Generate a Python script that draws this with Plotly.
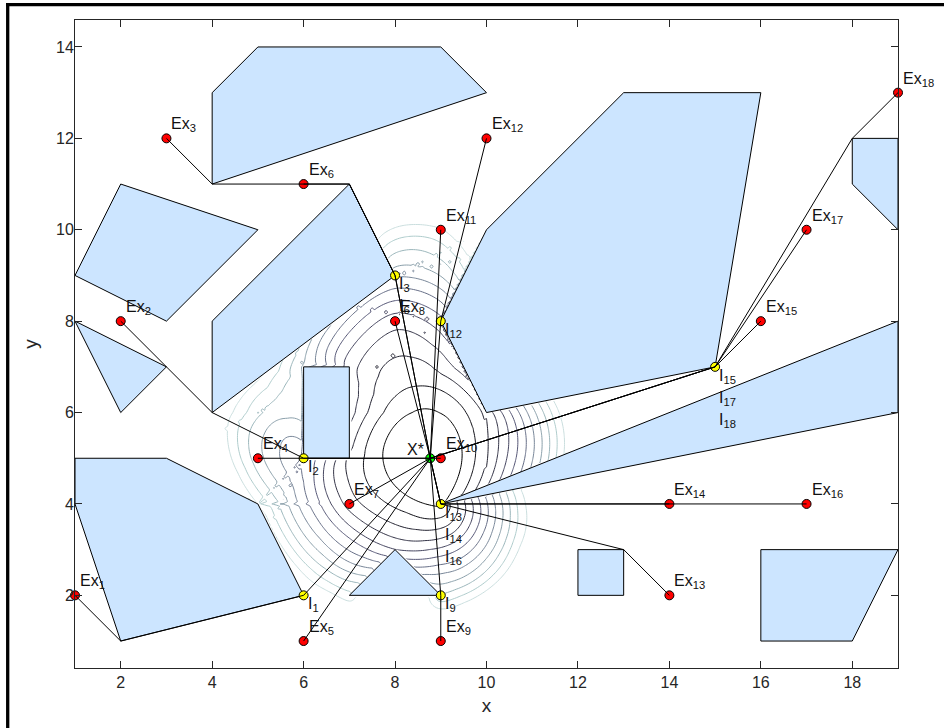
import numpy as np
import plotly.graph_objects as go

# ---------------------------------------------------------------------------
# Data
# ---------------------------------------------------------------------------
# Existing facilities Ex_1 .. Ex_18
ex_x = [1, 2, 3, 5, 6, 6, 7, 8, 9, 9, 9, 10, 14, 14, 16, 17, 17, 19]
ex_y = [2, 8, 12, 5, 1, 11, 4, 8, 1, 5, 10, 12, 2, 4, 8, 4, 10, 13]

# Optimal new location X*
opt_x = 8.77
opt_y = 5.0

# Polygonal barriers (vertex lists)
obstacles = [
    [(4, 11), (4, 13), (5, 14), (9, 14), (10, 13)],
    [(1, 9), (2, 11), (5, 10), (3, 8)],
    [(1, 8), (3, 7), (2, 6)],
    [(4, 6), (4, 8), (7, 11), (8, 9)],
    [(6, 5), (6, 7), (7, 7), (7, 5)],
    [(9, 8), (10, 10), (13, 13), (16, 13), (15, 7), (10, 6)],
    [(9, 4), (19, 8), (19, 6)],
    [(18, 11), (18, 12), (19, 12), (19, 10)],
    [(1, 5), (3, 5), (5, 4), (6, 2), (2, 1), (1, 4)],
    [(7, 2), (8, 3), (9, 2)],
    [(12, 2), (12, 3), (13, 3), (13, 2)],
    [(16, 1), (16, 3), (19, 3), (18, 1)],
]

# Barrier vertices passed by the shortest path from Ex_k to X*
path_via = [
    [(2, 1), (6, 2)],            # Ex1
    [(3, 7), (4, 6), (6, 5)],    # Ex2
    [(4, 11), (7, 11), (8, 9)],  # Ex3
    [],                          # Ex4
    [],                          # Ex5
    [(7, 11), (8, 9)],           # Ex6
    [],                          # Ex7
    [],                          # Ex8
    [(9, 2)],                    # Ex9
    [],                          # Ex10
    [],                          # Ex11
    [(9, 8)],                    # Ex12
    [(13, 3), (9, 4)],           # Ex13
    [(9, 4)],                    # Ex14
    [(15, 7)],                   # Ex15
    [(9, 4)],                    # Ex16
    [(15, 7)],                   # Ex17
    [(18, 12), (15, 7)],         # Ex18
]

x_ticks = [2, 4, 6, 8, 10, 12, 14, 16, 18]
y_ticks = [2, 4, 6, 8, 10, 12, 14]
x_range = [1, 19]
y_range = [0.41, 14.59]

# contour levels of the total barrier distance, measured above its minimum
level_offset = 2.2
level_step = 1.8
level_count = 12

# ---------------------------------------------------------------------------
# Barrier distance (shortest path around polygons) for the objective contours
# ---------------------------------------------------------------------------
polys = [np.array(p, float) for p in obstacles]
edge_a = np.array([p[j] for p in polys for j in range(len(p))])
edge_b = np.array([p[(j + 1) % len(p)] for p in polys for j in range(len(p))])


def crosses(P, q, A, B, eps=1e-9):
    """True where segment P_i -> q properly crosses a barrier edge."""
    px, py = P[:, 0][:, None], P[:, 1][:, None]
    ax, ay = A[:, 0][None, :], A[:, 1][None, :]
    bx, by = B[:, 0][None, :], B[:, 1][None, :]
    ex, ey = bx - ax, by - ay
    d1 = ex * (py - ay) - ey * (px - ax)
    d2 = ex * (q[1] - ay) - ey * (q[0] - ax)
    sx, sy = q[0] - px, q[1] - py
    d3 = sx * (ay - py) - sy * (ax - px)
    d4 = sx * (by - py) - sy * (bx - px)
    return np.any((d1 * d2 < -eps) & (d3 * d4 < -eps), axis=1)


def inside_any(P, margin=1e-7):
    """True where a point lies strictly inside a barrier."""
    x, y = P[:, 0], P[:, 1]
    res = np.zeros(len(P), bool)
    for v in polys:
        n = len(v)
        ins = np.zeros(len(P), bool)
        dmin = np.full(len(P), np.inf)
        for j in range(n):
            x1, y1 = v[j]
            x2, y2 = v[(j + 1) % n]
            cond = (y1 > y) != (y2 > y)
            with np.errstate(divide="ignore", invalid="ignore"):
                xi = x1 + (y - y1) * (x2 - x1) / (y2 - y1)
            ins ^= cond & (x < xi)
            dx, dy = x2 - x1, y2 - y1
            t = np.clip(((x - x1) * dx + (y - y1) * dy) / (dx * dx + dy * dy), 0, 1)
            dmin = np.minimum(dmin, np.hypot(x - x1 - t * dx, y - y1 - t * dy))
        res |= ins & (dmin > margin)
    return res


nodes = np.array([v for p in polys for v in p] + list(zip(ex_x, ex_y)), float)
n_nodes = len(nodes)
ex_node = list(range(n_nodes - len(ex_x), n_nodes))

# visibility graph between nodes
W = np.full((n_nodes, n_nodes), np.inf)
ts = np.linspace(0.02, 0.98, 33)
for a in range(n_nodes):
    blk = crosses(nodes, nodes[a], edge_a, edge_b)
    samples = nodes[a][None, None, :] + ts[None, :, None] * (nodes[:, None, :] - nodes[a][None, None, :])
    blk |= inside_any(samples.reshape(-1, 2)).reshape(n_nodes, len(ts)).any(axis=1)
    d = np.hypot(nodes[:, 0] - nodes[a, 0], nodes[:, 1] - nodes[a, 1])
    W[a, ~blk] = d[~blk]
np.fill_diagonal(W, 0.0)
D = W.copy()
for k in range(n_nodes):
    D = np.minimum(D, D[:, k:k + 1] + D[k:k + 1, :])


def objective(P):
    G = np.full((len(P), n_nodes), np.inf)
    for v in range(n_nodes):
        vis = ~crosses(P, nodes[v], edge_a, edge_b)
        d = np.hypot(P[:, 0] - nodes[v, 0], P[:, 1] - nodes[v, 1])
        G[vis, v] = d[vis]
    total = np.zeros(len(P))
    for i in ex_node:
        total += np.min(G + D[:, i][None, :], axis=1)
    return total


gx = np.arange(3.0, 13.0001, 0.05)
gy = np.arange(0.6, 11.5001, 0.05)
GX, GY = np.meshgrid(gx, gy)
pts = np.column_stack([GX.ravel(), GY.ravel()])
free = ~inside_any(pts, margin=0.0)
Z = np.full(len(pts), np.nan)
Z[free] = objective(pts[free])
Z = Z.reshape(GX.shape)
f_opt = objective(np.array([[opt_x, opt_y]]))[0]

lev_first = f_opt + level_offset
lev_last = lev_first + (level_count - 1) * level_step


def bone(t):
    rh = min(1.0, t / 0.375)
    gh = min(1.0, max(0.0, (t - 0.375) / 0.375))
    bh = min(1.0, max(0.0, (t - 0.75) / 0.25))
    r, g, b = (7 * t + bh) / 8, (7 * t + gh) / 8, (7 * t + rh) / 8
    return "rgb(%d,%d,%d)" % (round(255 * r), round(255 * g), round(255 * b))


bone_scale = [[s, bone(0.85 * s)] for s in np.linspace(0, 1, 12)]

# ---------------------------------------------------------------------------
# Figure
# ---------------------------------------------------------------------------
FONT = "Liberation Sans, Arial, sans-serif"
INK = "#262626"

fig = go.Figure()

fig.add_trace(go.Contour(
    x=gx, y=gy, z=Z, autocontour=False,
    contours=dict(start=lev_first, end=lev_last, size=level_step, coloring="lines"),
    colorscale=bone_scale, showscale=False, line=dict(width=1),
    connectgaps=False, hoverinfo="skip", showlegend=False,
))

for p in obstacles:
    xs = [v[0] for v in p] + [p[0][0]]
    ys = [v[1] for v in p] + [p[0][1]]
    fig.add_trace(go.Scatter(
        x=xs, y=ys, mode="lines", fill="toself", fillcolor="#cce5ff",
        line=dict(color="black", width=1), hoverinfo="skip", showlegend=False,
    ))

# intersection points I_k: last barrier vertex on each path before X*
i_pts = {}
for k, via in enumerate(path_via, start=1):
    if via:
        i_pts.setdefault(tuple(via[-1]), []).append(k)

marker_line = dict(color="black", width=1)
fig.add_trace(go.Scatter(
    x=ex_x, y=ex_y, mode="markers", cliponaxis=False,
    marker=dict(size=9, color="#ff0000", line=marker_line), showlegend=False,
))
fig.add_trace(go.Scatter(
    x=[p[0] for p in i_pts], y=[p[1] for p in i_pts], mode="markers", cliponaxis=False,
    marker=dict(size=9, color="#ffff00", line=marker_line), showlegend=False,
))
fig.add_trace(go.Scatter(
    x=[opt_x], y=[opt_y], mode="markers", cliponaxis=False,
    marker=dict(size=9, color="#00ff00", line=marker_line), showlegend=False,
))

# shortest paths Ex_k -> X*
for k, via in enumerate(path_via):
    xs = [ex_x[k]] + [v[0] for v in via] + [opt_x]
    ys = [ex_y[k]] + [v[1] for v in via] + [opt_y]
    fig.add_trace(go.Scatter(
        x=xs, y=ys, mode="lines", cliponaxis=False,
        line=dict(color="black", width=1), hoverinfo="skip", showlegend=False,
    ))

annotations = []
label_font = dict(family=FONT, size=16, color="#111111")
for k, (x, y) in enumerate(zip(ex_x, ex_y), start=1):
    annotations.append(dict(
        x=x, y=y, text="Ex<sub>%d</sub>" % k, showarrow=False,
        xanchor="left", yanchor="bottom", xshift=3, yshift=2, font=label_font,
    ))
for (x, y), ks in i_pts.items():
    for j, k in enumerate(ks):
        annotations.append(dict(
            x=x, y=y, text="I<sub>%d</sub>" % k, showarrow=False,
            xanchor="left", yanchor="top", xshift=2, yshift=2 - 22 * j, font=label_font,
        ))
annotations.append(dict(
    x=opt_x, y=opt_y, text="X*", showarrow=False,
    xanchor="right", yanchor="bottom", xshift=-4, yshift=-2, font=label_font,
))

# figure frame (top and left rules)
L, R, T, B = 75, 46, 20, 60
PW, PH = 944 - L - R, 728 - T - B
shapes = [
    dict(type="line", xref="paper", yref="paper",
         x0=(6 - L) / PW, x1=(950 - L) / PW, y0=1 + (T - 4.7) / PH, y1=1 + (T - 4.7) / PH,
         line=dict(color="black", width=3.3)),
    dict(type="line", xref="paper", yref="paper",
         x0=(7.7 - L) / PW, x1=(7.7 - L) / PW, y0=1 + (T - 3) / PH, y1=-(B + 5) / PH,
         line=dict(color="black", width=3.3)),
]

axis_common = dict(
    showline=True, linecolor=INK, linewidth=1, mirror="ticks",
    ticks="inside", ticklen=7, tickwidth=1, tickcolor=INK,
    showgrid=False, zeroline=False,
    tickfont=dict(family=FONT, size=16, color=INK),
)

fig.update_layout(
    width=944, height=728,
    margin=dict(l=L, r=R, t=T, b=B),
    paper_bgcolor="white", plot_bgcolor="white",
    xaxis=dict(range=x_range, tickvals=x_ticks,
               title=dict(text="x", font=dict(family=FONT, size=19, color=INK), standoff=8),
               **axis_common),
    yaxis=dict(range=y_range, tickvals=y_ticks, ticklabelstandoff=-3,
               title=dict(text="y", font=dict(family=FONT, size=19, color=INK), standoff=13),
               **axis_common),
    annotations=annotations,
    shapes=shapes,
    showlegend=False,
)

fig.write_html("out.html")
